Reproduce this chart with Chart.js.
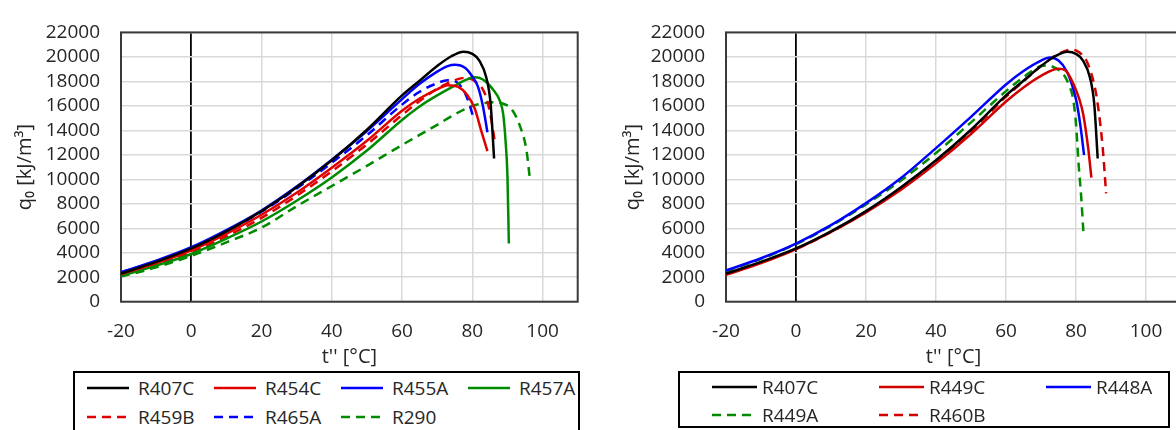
<!DOCTYPE html>
<html lang="en">
  <head>
    <meta charset="utf-8" />
    <script src="https://cdn.jsdelivr.net/npm/chart.js@4.4.0/dist/chart.umd.min.js"></script>
    <title>q0 vs t''</title>
    <style>
      html, body { margin: 0; padding: 0; overflow: hidden; background: #fff; }
      body { width: 1176px; height: 430px; position: relative; font-family: "Open Sans", sans-serif; }
      canvas { position: absolute; top: 0; }
      #chartL { left: 0; }
      #chartR { left: 590px; }
      .legend { position: absolute; border: 2px solid #000; box-sizing: border-box; background: #fff; }
      .legend .item { position: absolute; display: flex; align-items: center; height: 24px; font-size: 19px; color: #262626; white-space: nowrap; }
      .legend svg { display: block; }
    </style>
  </head>
  <body>
    <canvas id="chartL" width="590" height="430"></canvas>
    <canvas id="chartR" width="600" height="430"></canvas>
    <div id="legendL" class="legend" style="left:73px;top:371px;width:507px;height:64px"></div>
    <div id="legendR" class="legend" style="left:678px;top:371px;width:492px;height:57px"></div>
    <script>
      // t'' [°C] and q0 [kJ/m3] per refrigerant
      const tR407C = [-20, -10, 0, 10, 20, 30, 40, 50, 60, 65, 70, 74, 77.5, 80, 82, 84, 85.2, 86.2];
      const qR407C = [2300, 3250, 4350, 5750, 7400, 9350, 11550, 14050, 16850, 18050, 19250, 20050, 20420, 20250, 19700, 18300, 16200, 11700];

      const tR454C = [-20, -10, 0, 10, 20, 30, 40, 50, 60, 65, 70, 73, 76, 78.5, 80.7, 82.5, 84.3];
      const qR454C = [2250, 3150, 4200, 5550, 7100, 8900, 10950, 13150, 15600, 16600, 17350, 17690, 17550, 16900, 15770, 14000, 12300];

      const tR455A = [-20, -10, 0, 10, 20, 30, 40, 50, 60, 65, 70, 73, 75, 78, 80, 81.6, 83, 84.3];
      const qR455A = [2400, 3350, 4450, 5850, 7450, 9400, 11600, 13950, 16550, 17800, 18800, 19250, 19360, 19100, 18400, 17570, 16000, 13850];

      const tR457A = [-20, -10, 0, 10, 20, 30, 40, 50, 60, 65, 70, 75, 78, 80.7, 83, 86, 88, 88.8, 89.5, 90, 90.4];
      const qR457A = [2100, 2950, 3900, 5150, 6550, 8250, 10150, 12350, 14850, 15950, 16850, 17650, 18100, 18330, 18150, 17300, 16300, 15300, 13000, 10300, 4750];

      const tR459B = [-20, -10, 0, 10, 20, 30, 40, 50, 60, 65, 70, 75, 78.3, 81, 83.5, 85, 86.4];
      const qR459B = [2200, 3050, 4050, 5350, 6850, 8650, 10650, 12850, 15250, 16400, 17400, 18100, 18300, 17950, 17050, 15500, 13100];

      const tR465A = [-20, -10, 0, 10, 20, 30, 40, 50, 60, 65, 70, 73, 75.5, 78, 79.3, 80.2];
      const qR465A = [2400, 3300, 4350, 5750, 7350, 9250, 11350, 13600, 16100, 17150, 17850, 18100, 17950, 17000, 16000, 15150];

      const tR290 = [-20, -10, 0, 10, 20, 30, 40, 50, 60, 70, 75, 80, 83, 86.4, 89, 91.1, 93.5, 95.4, 96.3];
      const qR290 = [2050, 2800, 3750, 4850, 6050, 7800, 9450, 11100, 12800, 14450, 15300, 16000, 16200, 16300, 16150, 15770, 14400, 12400, 10260];

      const tR449C = [-20, -10, 0, 10, 20, 30, 40, 50, 60, 65, 70, 75, 77, 79.2, 81, 82.1, 83.5, 84.4];
      const qR449C = [2200, 3150, 4300, 5700, 7300, 9150, 11300, 13700, 16350, 17500, 18450, 19030, 18900, 17820, 16500, 15260, 12500, 10130];

      const tR448A = [-20, -10, 0, 10, 20, 30, 40, 50, 60, 65, 70, 72.5, 75, 77.3, 79, 80.2, 81.3, 82.3];
      const qR448A = [2550, 3550, 4750, 6250, 8050, 10100, 12550, 15100, 17750, 18850, 19700, 19950, 19700, 18850, 17600, 16280, 14300, 11980];

      const tR449A = [-20, -10, 0, 10, 20, 30, 40, 50, 60, 65, 70, 72, 74, 76.4, 78, 79.2, 80, 80.7, 81.5, 82.1];
      const qR449A = [2500, 3500, 4700, 6200, 7950, 9900, 12150, 14650, 17200, 18350, 19250, 19300, 19100, 18590, 17700, 16540, 14500, 11410, 8500, 5770];

      const tR460B = [-20, -10, 0, 10, 20, 30, 40, 50, 60, 65, 70, 75, 78.8, 81, 83.1, 84.8, 86, 87.6, 88.6];
      const qR460B = [2250, 3200, 4300, 5700, 7350, 9250, 11400, 13900, 16750, 18000, 19250, 20250, 20600, 20350, 19620, 18200, 16540, 12690, 8850];

      const xMin = -20, xMax = 110, xStep = 20;
      const yMin = 0, yMax = 22000, yStep = 2000;

      const FONT = '"Open Sans", sans-serif';
      const dash = [9, 6];

      function pts(t, q) {
        return t.map((v, i) => ({ x: v, y: q[i] }));
      }

      function serie(label, t, q, color, dashed) {
        return {
          label: label,
          data: pts(t, q),
          borderColor: color,
          backgroundColor: color,
          borderWidth: 2.5,
          borderDash: dashed ? dash : [],
          pointRadius: 0,
          cubicInterpolationMode: 'monotone',
          fill: false
        };
      }

      // plot frame
      const frame = {
        id: 'frame',
        beforeDatasetsDraw(chart) {
          const a = chart.chartArea, c = chart.ctx;
          c.save();
          c.strokeStyle = '#3a3a3a';
          c.lineWidth = 2;
          c.strokeRect(a.left, a.top, a.right - a.left, a.bottom - a.top);
          c.restore();
        }
      };

      function makeOptions(yWidth, yTitlePad, rightPad) {
        return {
          responsive: false,
          animation: false,
          layout: { autoPadding: false, padding: { top: 16, left: 0, right: rightPad, bottom: 0 } },
          plugins: { legend: { display: false }, tooltip: { enabled: false } },
          scales: {
            x: {
              type: 'linear', min: xMin, max: xMax,
              border: { display: false },
              grid: {
                drawTicks: false,
                color: c => (c.tick && c.tick.value === 0) ? '#000' : '#d9d9d9',
                lineWidth: c => (c.tick && c.tick.value === 0) ? 1.8 : 1.5
              },
              ticks: {
                stepSize: xStep, includeBounds: false, padding: 18, autoSkip: false, maxRotation: 0, color: '#262626',
                font: { family: FONT, size: 19 },
                callback: v => String(v)
              },
              title: {
                display: true, text: "t'' [°C]", color: '#262626',
                font: { family: FONT, size: 20 },
                padding: { top: 0, bottom: 61 }
              },
              afterFit: s => { s.height = 128.3; }
            },
            y: {
              min: yMin, max: yMax,
              border: { display: false },
              grid: { drawTicks: false, color: '#d9d9d9', lineWidth: 1.5 },
              ticks: {
                stepSize: yStep, padding: 21, autoSkip: false, color: '#262626',
                font: { family: FONT, size: 19 },
                callback: v => String(v)
              },
              title: {
                display: true, text: 'q₀ [kJ/m³]', color: '#262626',
                font: { family: FONT, size: 20 },
                padding: { top: yTitlePad, bottom: 0 }
              },
              afterFit: s => { s.width = yWidth; }
            }
          }
        };
      }

      function htmlLegend(chart, el, cols, x0, dx, y0, dy, lineLen, gap) {
        const items = Chart.defaults.plugins.legend.labels.generateLabels(chart);
        items.forEach((it, i) => {
          const col = i % cols, row = Math.floor(i / cols);
          const d = document.createElement('div');
          d.className = 'item';
          d.style.left = (x0 + col * dx) + 'px';
          d.style.top = (y0 + row * dy - 12) + 'px';
          const da = (it.lineDash && it.lineDash.length) ? it.lineDash.join(',') : 'none';
          d.innerHTML = '<svg width="' + lineLen + '" height="6"><line x1="0" y1="3" x2="' + lineLen +
            '" y2="3" stroke="' + it.strokeStyle + '" stroke-width="2.5" stroke-dasharray="' + da + '"/></svg>' +
            '<span style="margin-left:' + gap + 'px">' + it.text + '</span>';
          el.appendChild(d);
        });
      }

      function run() {
        const left = new Chart(document.getElementById('chartL'), {
          type: 'line',
          data: {
            datasets: [
              serie('R407C', tR407C, qR407C, '#000000', false),
              serie('R454C', tR454C, qR454C, '#e00000', false),
              serie('R455A', tR455A, qR455A, '#0000ff', false),
              serie('R457A', tR457A, qR457A, '#008a00', false),
              serie('R459B', tR459B, qR459B, '#e00000', true),
              serie('R465A', tR465A, qR465A, '#0000ff', true),
              serie('R290', tR290, qR290, '#008a00', true)
            ]
          },
          options: makeOptions(121, 13, 12.3),
          plugins: [frame]
        });

        const right = new Chart(document.getElementById('chartR'), {
          type: 'line',
          data: {
            datasets: [
              serie('R407C', tR407C, qR407C, '#000000', false),
              serie('R449C', tR449C, qR449C, '#d00000', false),
              serie('R448A', tR448A, qR448A, '#0000ff', false),
              serie('R449A', tR449A, qR449A, '#008a00', true),
              serie('R460B', tR460B, qR460B, '#d00000', true)
            ]
          },
          options: makeOptions(136, 31, 9),
          plugins: [frame]
        });

        htmlLegend(left, document.getElementById('legendL'), 4, 12, 127, 15, 29.4, 42, 9);
        htmlLegend(right, document.getElementById('legendR'), 3, 32, 167, 14, 28.4, 45, 5);
      }

      document.fonts.load('18px "Open Sans"').then(run, run);
    </script>
  </body>
</html>
